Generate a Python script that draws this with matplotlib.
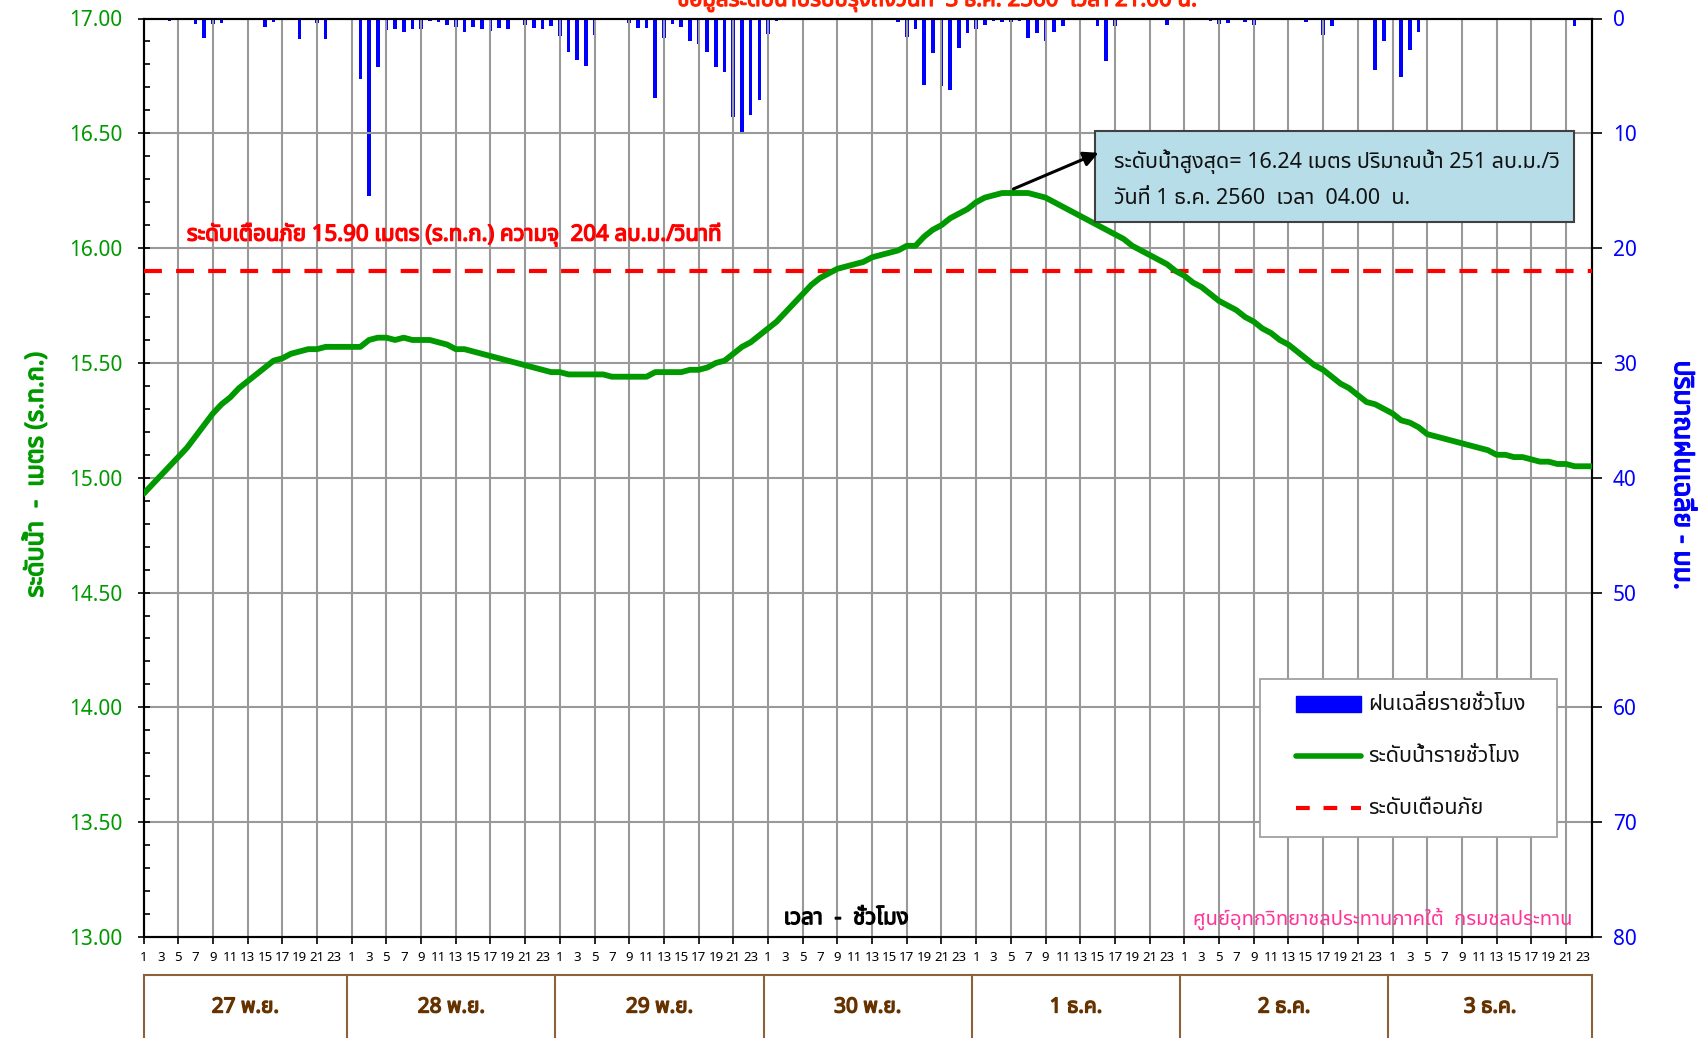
import matplotlib
matplotlib.use("Agg")
import matplotlib.pyplot as plt
from matplotlib import font_manager as fm
from matplotlib.ft2font import FT2Font
from matplotlib.patches import Rectangle
from matplotlib.lines import Line2D
import matplotlib.transforms as mtransforms
import matplotlib.patheffects as pe
import numpy as np

# ---------------- data ----------------
days = ["27 พ.ย.", "28 พ.ย.", "29 พ.ย.", "30 พ.ย.", "1 ธ.ค.", "2 ธ.ค.", "3 ธ.ค."]
hours_per_day = 24

water_level = [
    14.93, 14.97, 15.01, 15.05, 15.09, 15.13, 15.18, 15.23, 15.28, 15.32, 15.35, 15.39,
    15.42, 15.45, 15.48, 15.51, 15.52, 15.54, 15.55, 15.56, 15.56, 15.57, 15.57, 15.57,
    15.57, 15.57, 15.60, 15.61, 15.61, 15.60, 15.61, 15.60, 15.60, 15.60, 15.59, 15.58,
    15.56, 15.56, 15.55, 15.54, 15.53, 15.52, 15.51, 15.50, 15.49, 15.48, 15.47, 15.46,
    15.46, 15.45, 15.45, 15.45, 15.45, 15.45, 15.44, 15.44, 15.44, 15.44, 15.44, 15.46,
    15.46, 15.46, 15.46, 15.47, 15.47, 15.48, 15.50, 15.51, 15.54, 15.57, 15.59, 15.62,
    15.65, 15.68, 15.72, 15.76, 15.80, 15.84, 15.87, 15.89, 15.91, 15.92, 15.93, 15.94,
    15.96, 15.97, 15.98, 15.99, 16.01, 16.01, 16.05, 16.08, 16.10, 16.13, 16.15, 16.17,
    16.20, 16.22, 16.23, 16.24, 16.24, 16.24, 16.24, 16.23, 16.22, 16.20, 16.18, 16.16,
    16.14, 16.12, 16.10, 16.08, 16.06, 16.04, 16.01, 15.99, 15.97, 15.95, 15.93, 15.90,
    15.88, 15.85, 15.83, 15.80, 15.77, 15.75, 15.73, 15.70, 15.68, 15.65, 15.63, 15.60,
    15.58, 15.55, 15.52, 15.49, 15.47, 15.44, 15.41, 15.39, 15.36, 15.33, 15.32, 15.30,
    15.28, 15.25, 15.24, 15.22, 15.19, 15.18, 15.17, 15.16, 15.15, 15.14, 15.13, 15.12,
    15.10, 15.10, 15.09, 15.09, 15.08, 15.07, 15.07, 15.06, 15.06, 15.05, 15.05, 15.05,
]

rainfall = [
    0.0, 0.1, 0.1, 0.2, 0.0, 0.1, 0.5, 1.7, 0.45, 0.35, 0.0, 0.0,
    0.0, 0.1, 0.7, 0.3, 0.0, 0.0, 1.8, 0.15, 0.4, 1.75, 0.0, 0.0,
    0.0, 5.3, 15.5, 4.2, 1.0, 0.9, 1.2, 0.9, 0.9, 0.2, 0.3, 0.6,
    0.75, 1.2, 0.75, 0.95, 1.1, 0.85, 0.95, 0.15, 0.6, 0.8, 0.95, 0.65,
    1.5, 2.9, 3.6, 4.1, 1.4, 0.15, 0.0, 0.1, 0.4, 0.85, 0.8, 6.9,
    1.7, 0.5, 0.75, 1.95, 2.2, 2.9, 4.25, 4.65, 8.55, 10.0, 8.4, 7.1,
    1.35, 0.2, 0.0, 0.15, 0.0, 0.0, 0.1, 0.1, 0.0, 0.0, 0.0, 0.0,
    0.0, 0.1, 0.0, 0.3, 1.6, 0.9, 5.8, 3.0, 5.9, 6.2, 2.6, 1.3,
    0.9, 0.6, 0.2, 0.3, 0.3, 0.25, 1.7, 1.3, 2.0, 1.15, 0.65, 0.1,
    0.0, 0.05, 0.65, 3.7, 0.65, 0.15, 0.0, 0.15, 0.15, 0.15, 0.6, 0.1,
    0.0, 0.05, 0.05, 0.25, 0.5, 0.4, 0.15, 0.3, 0.6, 0.0, 0.0, 0.1,
    0.0, 0.15, 0.3, 0.0, 1.45, 0.65, 0.0, 0.1, 0.0, 0.15, 4.5, 2.0,
    0.0, 5.1, 2.75, 1.15, 0.15, 0.1, 0.0, 0.05, 0.05, 0.0, 0.0, 0.05,
    0.0, 0.0, 0.05, 0.0, 0.0, 0.0, 0.0, 0.05, 0.1, 0.65, 0.1, 0.0,
]

warning_level = 15.90

left_ticks = [13.0, 13.5, 14.0, 14.5, 15.0, 15.5, 16.0, 16.5, 17.0]
right_ticks = [0, 10, 20, 30, 40, 50, 60, 70, 80]

title_text = "ข้อมูลระดับน้ำปรับปรุงถึงวันที่  3 ธ.ค. 2560  เวลา 21.00 น."
warning_text = "ระดับเตือนภัย 15.90 เมตร (ร.ท.ก.) ความจุ  204 ลบ.ม./วินาที"
peak_text = "ระดับน้ำสูงสุด= 16.24 เมตร ปริมาณน้ำ 251 ลบ.ม./วิ\nวันที่ 1 ธ.ค. 2560  เวลา  04.00  น."
legend_labels = ["ฝนเฉลี่ยรายชั่วโมง", "ระดับน้ำรายชั่วโมง", "ระดับเตือนภัย"]
xlabel_text = "เวลา  -  ชั่วโมง"
source_text = "ศูนย์อุทกวิทยาชลประทานภาคใต้  กรมชลประทาน"
left_ylabel = "ระดับน้ำ  -  เมตร (ร.ท.ก.)"
right_ylabel = "ปริมาณฝนเฉลี่ย - มม."

# ---------------- fonts ----------------
def find_thai_font():
    prefs = ['Tahoma', 'Noto Sans Thai', 'Noto Sans Thai UI', 'Loma', 'Garuda',
             'Sarabun', 'Waree', 'Umpush', 'Kinnari', 'Norasi', 'Laksaman',
             'Sawasdee', 'Purisa', 'Noto Serif Thai']
    found = {}
    for f in fm.fontManager.ttflist:
        try:
            ft = FT2Font(f.fname)
            if ft.get_char_index(ord('ก')):
                found.setdefault(f.name, f.fname)
        except Exception:
            pass
    for p in prefs:
        if p in found:
            return p
    return next(iter(found), None)

thai = find_thai_font()
families = ([thai] if thai else []) + ['DejaVu Sans']
plt.rcParams['font.family'] = families


def bold(color, w=1.0):
    return [pe.withStroke(linewidth=w, foreground=color)]


GREEN = '#009900'
BLUE = '#0000FF'
RED = '#FF0000'
GRID = '#999999'

# ---------------- figure ----------------
W, H = 1704, 1038
fig = plt.figure(figsize=(W / 100, H / 100), dpi=100)
ax_l, ax_r, ax_t, ax_b = 143.5, 1592, 18.5, 937
ax = fig.add_axes([ax_l / W, 1 - ax_b / H, (ax_r - ax_l) / W, (ax_b - ax_t) / H])
ax2 = ax.twinx()


def axx(px):
    return (px - ax_l) / (ax_r - ax_l)


def axy(py):
    return (ax_b - py) / (ax_b - ax_t)


n = len(water_level)
x = np.arange(n)

ax.set_xlim(0, n - 1)
ax.set_ylim(13.0, 17.0)
ax2.set_ylim(80, 0)

# grid lines
for yv in left_ticks[1:-1]:
    ax.axhline(yv, color=GRID, lw=1.5, zorder=0)
for xv in range(4, n - 1, 4):
    ax.axvline(xv, color=GRID, lw=1.5, zorder=0)

# rainfall bars (right axis)
ax2.bar(x, rainfall, width=0.42, color=BLUE, zorder=2)

ax.set_zorder(ax2.get_zorder() + 1)
ax.patch.set_visible(False)
ax.axhline(warning_level, color=RED, lw=3, dashes=(4.3, 3.4), zorder=3)
ax.plot(x, water_level, color=GREEN, lw=4.2, zorder=4, solid_capstyle='round',
        solid_joinstyle='round')

# ticks - left
ax.set_yticks(left_ticks)
ax.set_yticklabels([f"{v:.2f}" for v in left_ticks], color=GREEN, fontsize=15)
ax.set_yticks(np.arange(13.0, 17.01, 0.1), minor=True)
ax.tick_params(axis='y', which='major', length=8, direction='inout', width=1.2, pad=11)
ax.tick_params(axis='y', which='minor', length=4, direction='in', width=1.2)

# ticks - right
ax2.set_yticks(right_ticks)
ax2.set_yticklabels([str(v) for v in right_ticks], color=BLUE, fontsize=15)
ax2.tick_params(axis='y', length=7, direction='out', width=1.2, pad=8)

# ticks - x
major = list(range(0, n, 4))
minor = [i for i in range(2, n, 4)]
ax.set_xticks(major)
ax.set_xticklabels([str(i % 24 + 1) for i in major], fontsize=9.5)
ax.set_xticks(minor, minor=True)
ax.set_xticklabels([str(i % 24 + 1) for i in minor], minor=True, fontsize=9.5)
ax.tick_params(axis='x', which='major', length=5, direction='out', width=1.2, pad=5)
ax.tick_params(axis='x', which='minor', length=0, pad=10)

for a in (ax, ax2):
    for s in a.spines.values():
        s.set_linewidth(1.5)
        s.set_color('black')

# warning text
ax.text(5.0, 16.06, warning_text, color=RED, fontsize=16,
        va='center', ha='left', zorder=5, path_effects=bold(RED, 1.0))

# peak annotation box
box = Rectangle((109.7, 16.115), 55.2, 0.393, facecolor='#B7DDE8',
                edgecolor='#404040', lw=1.5, zorder=6)
ax.add_patch(box)
ax.text(111.9, 16.30, peak_text, fontsize=15.5, va='center', ha='left',
        linespacing=1.85, zorder=7, color='#111111')
ax.annotate('', xy=(110.4, 16.42), xytext=(100.0, 16.253),
            arrowprops=dict(arrowstyle='-|>', color='black', lw=2.2,
                            mutation_scale=22), zorder=7)

# x label & source
ax.text(81, 13.08, xlabel_text, fontsize=16, ha='center',
        va='center', color='black', zorder=5, path_effects=bold('black', 0.9))
ax.text(164.8, 13.08, source_text, fontsize=14.5, ha='right', va='center',
        color='#FF3399', zorder=5)

# legend (drawn as a framed key box)
T = ax.transAxes
lx0, lx1, ly0, ly1 = 1260, 1557, 679, 837
ax.add_patch(Rectangle((axx(lx0), axy(ly1)), axx(lx1) - axx(lx0), axy(ly0) - axy(ly1),
                       transform=T, facecolor='white', edgecolor='#A0A0A0',
                       lw=1.3, zorder=8, clip_on=False))
hx0, hx1, tx = 1296, 1361, 1368
rows = [704, 756, 808]
ax.add_patch(Rectangle((axx(hx0), axy(rows[0] + 8)), axx(hx1) - axx(hx0),
                       axy(rows[0] - 8) - axy(rows[0] + 8), transform=T,
                       facecolor=BLUE, edgecolor=BLUE, zorder=9, clip_on=False))
ax.add_line(Line2D([axx(hx0), axx(hx1)], [axy(rows[1]), axy(rows[1])], transform=T,
                   color=GREEN, lw=4, solid_capstyle='round', zorder=9))
ax.add_line(Line2D([axx(hx0), axx(hx1)], [axy(rows[2]), axy(rows[2])], transform=T,
                   color=RED, lw=3, dashes=(3.3, 3.3), zorder=9))
for r, lab in zip(rows, legend_labels):
    ax.text(axx(tx), axy(r), lab, transform=T, fontsize=15.5, ha='left',
            va='center', zorder=9, color='#111111')

# axis labels
fig.text(36 / W, 1 - 475 / H, left_ylabel, rotation=90, color=GREEN,
         fontsize=18, ha='center', va='center', path_effects=bold(GREEN, 1.0))
fig.text(1682 / W, 1 - 475 / H, right_ylabel, rotation=270, color=BLUE,
         fontsize=19, ha='center', va='center', path_effects=bold(BLUE, 1.0))

# title (partially clipped at the top in the original)
fig.text(937 / W, 1 - 6 / H, title_text, color='#FF2200', fontsize=16,
         ha='center', va='baseline', path_effects=bold('#FF2200', 0.9))

# day boxes below the axis
trans = mtransforms.blended_transform_factory(ax.transData, ax.transAxes)
box_top = axy(975)
box_bot = axy(1045)
label_y = axy(1007)
BROWN = '#8B6239'
ax.plot([0, n - 1], [box_top, box_top], transform=trans, color=BROWN, lw=1.5,
        clip_on=False)
edges = [0] + [d * hours_per_day - 0.5 for d in range(1, len(days))] + [n - 1]
for e in edges:
    ax.plot([e, e], [box_top, box_bot], transform=trans, color=BROWN, lw=1.5,
            clip_on=False)
for d, lab in enumerate(days):
    cx = (edges[d] + edges[d + 1]) / 2
    ax.text(cx, label_y, lab, transform=trans, ha='center', va='center',
            fontsize=15, color='#663300', path_effects=bold('#663300', 1.0))

fig.savefig('out.png', dpi=100)
